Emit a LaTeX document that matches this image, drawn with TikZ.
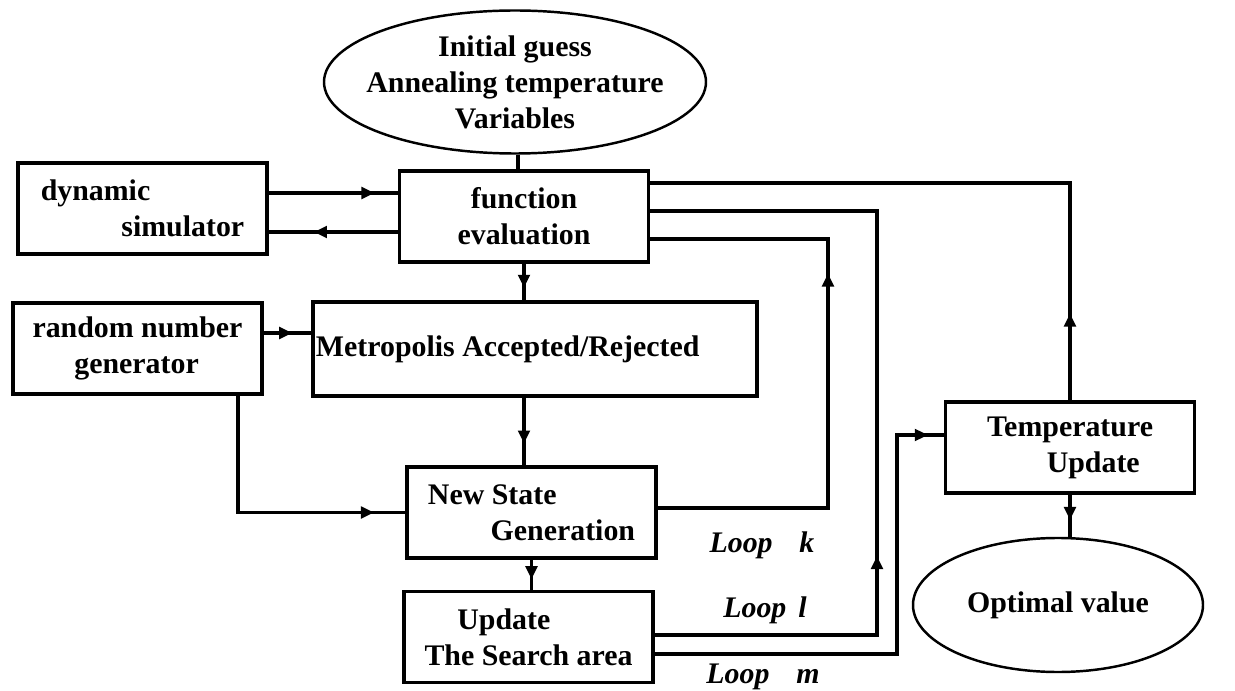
\documentclass[tikz,border=0pt]{standalone}
\usepackage{fontspec}
\setmainfont{Liberation Serif}
\usepackage{tikz}
\usetikzlibrary{arrows.meta, positioning, calc, shapes.geometric, decorations.markings}
\newcommand{\lbl}{\fontsize{17}{20.5}\selectfont\bfseries}

\begin{document}
\begin{tikzpicture}[
    x=0.2mm, y=-0.2mm,
    box/.style={draw, line width=2.1pt, minimum width=49.8mm,
                minimum height=18.2mm, inner sep=0pt, font=\lbl},
    oval/.style={ellipse, draw, line width=1.4pt, inner sep=0pt,
                 align=center, font=\lbl},
    link/.style={line width=1.9pt},
    midtip/.style={postaction={decorate}, decoration={markings,
                   mark=at position #1 with
                   {\arrow{Triangle[length=2.6mm, width=2.3mm]}}}},
    looplbl/.style={font=\lbl\itshape},
]
\useasboundingbox (0,0) rectangle (1235,691);

% -- Start and end ovals --
\node[oval, inner xsep=-3mm, minimum width=76.4mm,
      minimum height=28.6mm] (init)
    at (515, 82) {Initial guess\\Annealing temperature\\Variables};
\node[oval, minimum width=58mm, minimum height=26.8mm] (opt)
    at (1058, 605) {Optimal value};

% -- Blocks --
\node[box, align=center] (func)
    at (524, 216.5) {function\\evaluation};
\node[box, align=left] (dyn)
    at (142.5, 208.5) {dynamic\\\hspace*{2.7em}simulator};
\node[box, align=left] (rand)
    at (137.5, 348.5) {random number\\\hspace*{1.4em}generator};
\node[box, minimum width=88.8mm, minimum height=18.8mm,
      inner xsep=0.6mm, text width=87.6mm, align=flush left] (metro)
    at (535, 349) {Metropolis Accepted/Rejected};
\node[box, align=left] (newst)
    at (531.5, 512.5) {New State\\\hspace*{2.1em}Generation};
\node[box, align=left] (upd)
    at (528.5, 637) {\hspace*{1.1em}Update\\The Search area};
\node[box, align=left] (temp)
    at (1070, 447.5) {Temperature\\\hspace*{2.0em}Update};

% -- Loop labels --
\node[looplbl] (loopk) at (762, 545) {Loop\hspace{0.9em}k};
\node[looplbl] (loopl) at (765, 610) {Loop\hspace{0.4em}l};
\node[looplbl] (loopm) at (763, 677) {Loop\hspace{0.9em}m};

% -- Main column --
\draw[link] (init.south -| 518,0) -- (func.north -| 518,0);
\draw[link, midtip=0.66] (func.south) -- (func.south |- metro.north);
\draw[link, midtip=0.68] (metro.south -| 524,0) -- (newst.north -| 524,0);
\draw[link, midtip=0.65] (newst.south) -- (newst.south |- upd.north);

% -- Simulator and random numbers --
\draw[link, midtip=0.82] (dyn.east |- 0,193) -- (func.west |- 0,193);
\draw[link, midtip=0.65] (func.west |- 0,232) -- (dyn.east |- 0,232);
\draw[link, midtip=0.6] (rand.east |- 0,333) -- (metro.west |- 0,333);
\draw[link, midtip=0.89] (rand.south -| 238,0) |- (newst.west);

% -- Loops k, l, m --
\draw[link, midtip=0.656]
    (newst.east |- 0,508) -| (828,239) -- (func.east |- 0,239);
\draw[link, midtip=0.345]
    (upd.east |- 0,635) -| (877,211) -- (func.east |- 0,211);
\draw[link, midtip=0.969]
    (upd.east |- 0,654) -| (897,435) -- (temp.west |- 0,435);

% -- Temperature update --
\draw[link, midtip=0.136] (temp.north) |- (func.east |- 0,183);
\draw[link, midtip=0.6] (temp.south) -- (temp.south |- opt.north);

\end{tikzpicture}
\end{document}
